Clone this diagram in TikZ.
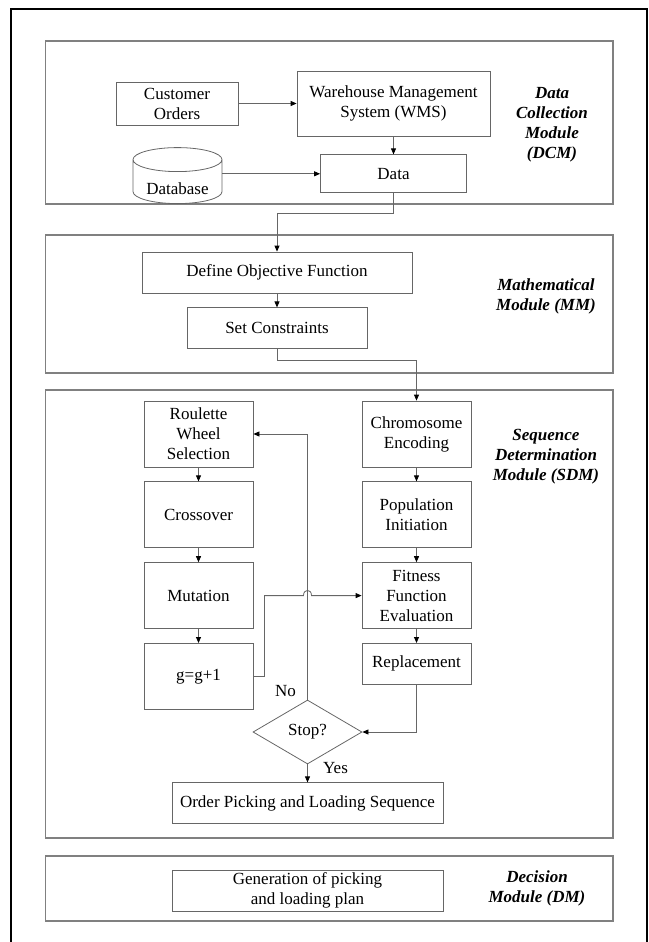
\documentclass[tikz,border=0pt]{standalone}
\usepackage{fontspec}
\setmainfont{Liberation Serif}
\usetikzlibrary{
  arrows.meta,
  positioning,
  shapes.geometric
}
\colorlet{pageFrame}{black}
\colorlet{moduleFrame}{black!50}
\colorlet{boxLine}{black!60}
\colorlet{flowLine}{black!60}

\begin{document}
\begin{tikzpicture}[
  x=1pt,y=-1pt,
  font=\fontsize{17}{20}\selectfont,
  every process/.style={
    draw=boxLine,
    line width=0.8pt,
    align=center,
    inner sep=0pt,
    minimum height=41pt
  },
  process/.style={
    every process/.try,
    minimum width=#1
  },
  process/.default=109pt,
  tall/.style={minimum height=66pt},
  decision/.style={
    diamond,
    draw=boxLine,
    line width=0.8pt,
    inner sep=0pt,
    minimum width=109pt,
    minimum height=64pt
  },
  database/.style={
    cylinder,
    shape border rotate=90,
    aspect=3.6,
    draw=boxLine,
    line width=0.8pt,
    minimum width=89pt,
    minimum height=56pt
  },
  module/.style={draw=moduleFrame,line width=1.2pt},
  module label/.style={font=\fontsize{17}{20}\selectfont\bfseries\itshape,align=center},
  flow/.style={
    draw=flowLine,
    line width=0.8pt,
    -{Triangle[length=6pt,width=5pt,color=black]}
  }
]
\useasboundingbox (0,0) rectangle (648,942);
% page frame, runs off the bottom
\draw[pageFrame,line width=1.5pt] (11,950) -- (11,9) -- (647,9) -- (647,950);

% module frames
\draw[module] (45.5,41) rectangle (613,204);
\draw[module] (45.5,235) rectangle (613,373);
\draw[module] (45.5,390) rectangle (613,838);
\draw[module] (45.5,856) rectangle (613,921);

\node[module label] (dcmLabel) at (552,125) {Data\\Collection\\Module\\(DCM)};
\node[module label] (mmLabel) at (546,296) {Mathematical\\Module (MM)};
\node[module label] (sdmLabel) at (546,457) {Sequence\\Determination\\Module (SDM)};
\node[module label] (dmLabel) at (537,888) {Decision\\Module (DM)};

% data collection
\node[process=122pt,minimum height=43pt] (cust) at (177,103.5) {Customer\\Orders};
\node[process=193pt,minimum height=65pt] (wms) at (393.5,103.5) {Warehouse Management\\System (WMS)};
\node[process=146pt,minimum height=38pt,below=18pt of wms] (data) {Data};
\node[database,anchor=south] (db) at (177.5,204) {};
\node (dbText) at ([yshift=15pt]db.south) {Database};

% mathematical model
\node[process=270pt] (obj) at (277,272.5) {Define Objective Function};
\node[process=180pt,below=14pt of obj] (cons) {Set Constraints};

% genetic algorithm
\node[process,tall] (rws) at (198.5,434) {Roulette\\Wheel\\Selection};
\node[process,tall,below=14pt of rws] (cross) {Crossover};
\node[process,tall,below=14pt of cross] (mut) {Mutation};
\node[process,tall,below=14pt of mut] (gg) {g=g+1};
\node[process,tall] (chrom) at (416.5,434) {Chromosome\\Encoding};
\node[process,tall,below=14pt of chrom] (pop) {Population\\Initiation};
\node[process,tall,below=14pt of pop] (fit) {Fitness\\Function\\Evaluation};
\node[process,below=14pt of fit] (repl) {Replacement};
\node[decision] (stop) at (307.5,732) {Stop?};
\node[process=271pt,below=18pt of stop] (order) {Order Picking and Loading Sequence};
\node (no) at ([xshift=-22pt,yshift=9pt]stop.north) {No};
\node (yes) at ([xshift=28pt,yshift=-4pt]stop.south) {Yes};

% decision
\node[process=271pt] (gen) at (307.5,890.5) {Generation of picking\\and loading plan};

% connectors
\draw[flow] (cust) -- (wms);
\draw[flow] (wms) -- (data);
\draw[flow] (db.east |- data.west) -- (data.west);
\draw[flow] (data.south) -- ++(0,20) -| (obj.north);
\draw[flow] (obj) -- (cons);
\draw[flow] (cons.south) -- ++(0,11) -| (chrom.north);
\foreach \a/\b in {rws/cross,cross/mut,mut/gg,chrom/pop,pop/fit,fit/repl}
  \draw[flow] (\a) -- (\b);
\draw[flow] (repl.south) |- (stop.east);
\draw[flow] (stop.north) |- (rws.east);
\coordinate (hop) at (stop.north |- fit.west);
\draw[flow] (gg.east) -- ++(11,0) |- ([xshift=-4pt]hop)
  .. controls +(0,-7) and +(0,-7) .. ([xshift=4pt]hop) -- (fit.west);
\draw[flow] (stop) -- (order);
\end{tikzpicture}
\end{document}
